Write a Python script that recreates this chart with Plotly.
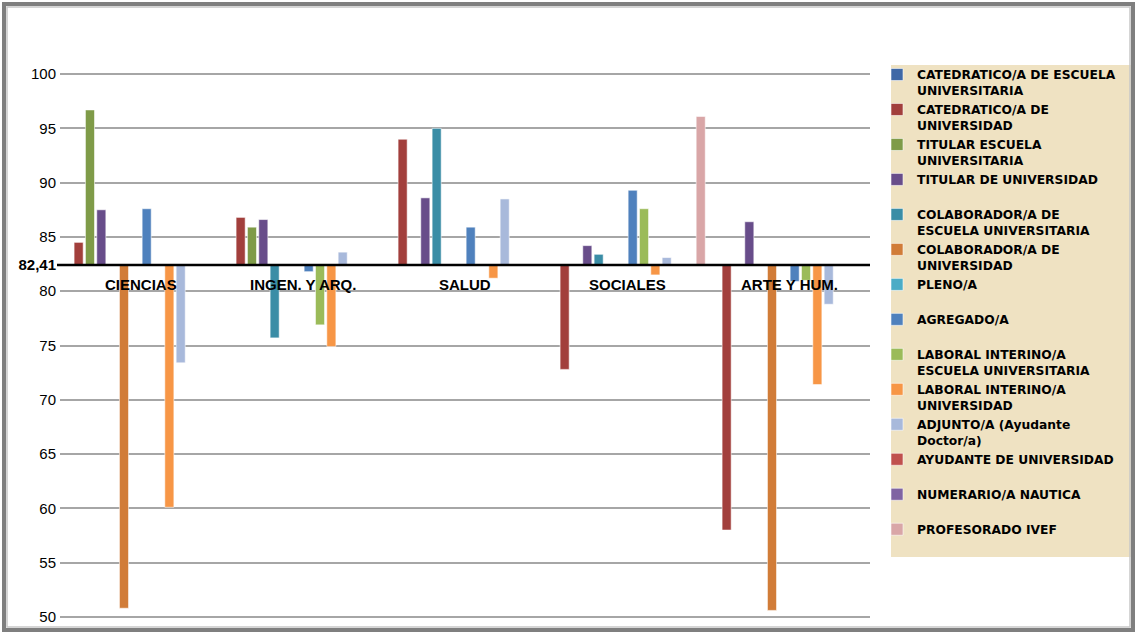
import plotly.graph_objects as go

# ---------------- data ----------------
CATEGORIES = ["CIENCIAS", "INGEN. Y ARQ.", "SALUD", "SOCIALES", "ARTE Y HUM."]
BASELINE = 82.41

SERIES_NAMES = [
    "CATEDRATICO/A DE ESCUELA<br>UNIVERSITARIA",
    "CATEDRATICO/A DE<br>UNIVERSIDAD",
    "TITULAR ESCUELA<br>UNIVERSITARIA",
    "TITULAR DE UNIVERSIDAD<br> ",
    "COLABORADOR/A DE<br>ESCUELA UNIVERSITARIA",
    "COLABORADOR/A DE<br>UNIVERSIDAD",
    "PLENO/A<br> ",
    "AGREGADO/A<br> ",
    "LABORAL INTERINO/A<br>ESCUELA UNIVERSITARIA",
    "LABORAL INTERINO/A<br>UNIVERSIDAD",
    "ADJUNTO/A (Ayudante<br>Doctor/a)",
    "AYUDANTE DE UNIVERSIDAD<br> ",
    "NUMERARIO/A NAUTICA<br> ",
    "PROFESORADO IVEF<br> ",
]

CATEDRATICO_EU = [None, None, None, None, None]
CATEDRATICO_UNIV = [84.5, 86.8, 94.0, 72.8, 58.0]
TITULAR_EU = [96.7, 85.9, None, None, None]
TITULAR_UNIV = [87.5, 86.6, 88.6, 84.2, 86.4]
COLABORADOR_EU = [None, 75.7, 95.0, 83.4, None]
COLABORADOR_UNIV = [50.8, None, None, None, 50.6]
PLENO = [None, None, None, None, None]
AGREGADO = [87.6, 81.8, 85.9, 89.3, 80.9]
LABORAL_EU = [None, 76.9, None, 87.6, 81.0]
LABORAL_UNIV = [60.1, 74.9, 81.2, 81.5, 71.4]
ADJUNTO = [73.4, 83.6, 88.5, 83.1, 78.8]
AYUDANTE = [None, None, None, None, None]
NUMERARIO = [None, None, None, None, None]
IVEF = [None, None, None, 96.1, None]

SERIES_VALUES = [
    CATEDRATICO_EU, CATEDRATICO_UNIV, TITULAR_EU, TITULAR_UNIV,
    COLABORADOR_EU, COLABORADOR_UNIV, PLENO, AGREGADO,
    LABORAL_EU, LABORAL_UNIV, ADJUNTO, AYUDANTE, NUMERARIO, IVEF,
]

COLORS = [
    "#3F68A6", "#A23F3C", "#7F9B48", "#684D8A", "#3A8DA6", "#D17C38", "#4BACC6",
    "#4F81BD", "#9BBB59", "#F79646", "#A8B9DB", "#C0504D", "#8064A2", "#D9A6A7",
]

Y_TICKS = [50, 55, 60, 65, 70, 75, 80, 85, 90, 95, 100]

# ---------------- figure ----------------
W, H = 1136, 633
ML, MR, MT, MB = 60, 266, 73, 15
PW, PH = W - ML - MR, H - MT - MB


def px(x):
    return (x - ML) / PW


def py(y):
    return (H - MB - y) / PH


fig = go.Figure()
for name, vals, col in zip(SERIES_NAMES, SERIES_VALUES, COLORS):
    fig.add_trace(go.Bar(
        x=CATEGORIES,
        y=[None if v is None else v - BASELINE for v in vals],
        base=BASELINE,
        name=name,
        marker=dict(color=col, line=dict(color="rgba(255,255,255,0.7)", width=0.8)),
        customdata=vals,
        hovertemplate="%{customdata}<extra></extra>",
    ))

shapes = [
    # legend background
    dict(type="rect", xref="paper", yref="paper",
         x0=px(891), x1=px(1132), y0=py(557), y1=py(65),
         fillcolor="#EFE2C2", line=dict(width=0), layer="below"),
    # baseline
    dict(type="line", xref="paper", yref="y", x0=px(57), x1=1, y0=BASELINE, y1=BASELINE,
         line=dict(color="black", width=2.5)),
    # outer frame
    dict(type="rect", xref="paper", yref="paper",
         x0=px(4), x1=px(1133), y0=py(630), y1=py(4),
         line=dict(color="#7F7F7F", width=4)),
    dict(type="rect", xref="paper", yref="paper",
         x0=px(7), x1=px(1130), y0=py(627), y1=py(7),
         line=dict(color="#C8C8C8", width=1.5)),
]

annotations = [
    dict(x=c, y=BASELINE, xref="x", yref="y", text="<b>%s</b>" % c, showarrow=False,
         yanchor="top", yshift=-9, font=dict(family="Liberation Sans, Arial", size=15, color="black"))
    for c in CATEGORIES
]

tickvals = Y_TICKS + [BASELINE]
ticktext = [str(t) for t in Y_TICKS] + ["<b>" + ("%.2f" % BASELINE).replace(".", ",") + "</b>"]

fig.update_layout(
    width=W, height=H,
    margin=dict(l=ML, r=MR, t=MT, b=MB, autoexpand=False),
    paper_bgcolor="white", plot_bgcolor="white",
    barmode="group", bargap=0.02, bargroupgap=0.2,
    showlegend=True,
    legend=dict(
        x=px(877), y=py(60), xanchor="left", yanchor="top",
        bgcolor="rgba(0,0,0,0)", valign="top",
        font=dict(family="DejaVu Sans", size=12.3, color="black", weight="bold"),
        itemwidth=30, traceorder="normal", tracegroupgap=0,
        maxheight=620,
    ),
    xaxis=dict(showticklabels=False, showgrid=False, zeroline=False, showline=False),
    yaxis=dict(range=[49.9, 100.1], tickvals=tickvals, ticktext=ticktext,
               showgrid=True, gridcolor="#A6A6A6", gridwidth=1.5, zeroline=False,
               showline=False, ticks="", ticklabelstandoff=3,
               tickfont=dict(family="Liberation Sans, Arial", size=15, color="black")),
    shapes=shapes,
    annotations=annotations,
    font=dict(family="Liberation Sans, Arial"),
)

fig.write_html(
    "out.html",
    config={"displayModeBar": False},
    post_script="document.body.style.margin='0';document.body.style.overflow='hidden';",
)
